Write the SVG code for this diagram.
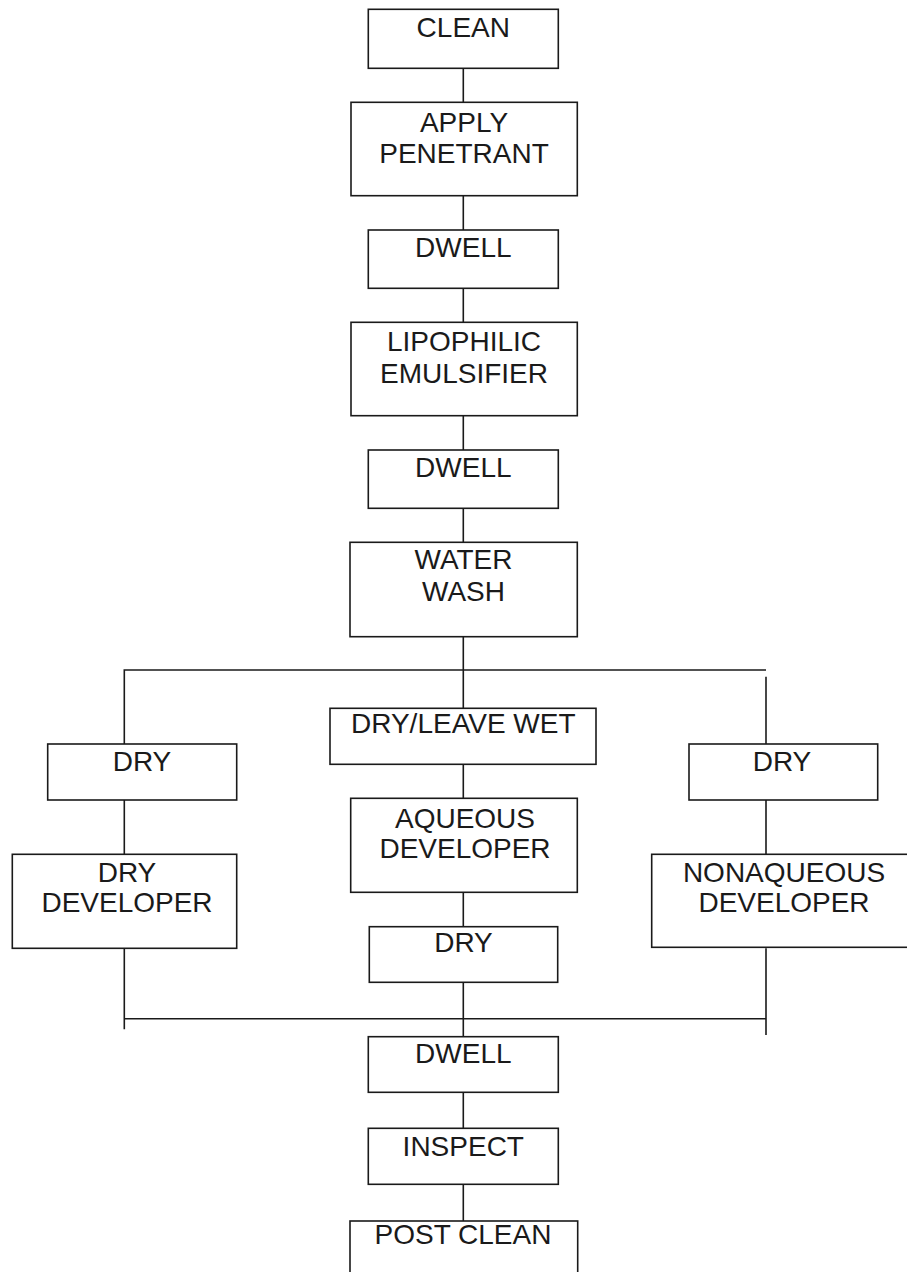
<svg xmlns="http://www.w3.org/2000/svg" width="907" height="1272" viewBox="0 0 907 1272">
<style>
.box{fill:#fff;stroke:#1a1a1a;stroke-width:1.6}
.c{fill:none;stroke:#1a1a1a;stroke-width:1.6}
text{font-family:"Liberation Sans",Arial,sans-serif;font-size:28px;fill:#1a1a1a;text-anchor:middle}
</style>
<rect width="907" height="1272" fill="#fff"/>
<g id="connectors">
<path class="c" d="M463.3,68.3V102.3M463.3,195.7V230M463.3,288.3V322.3M463.3,415.7V450M463.3,508.3V542.3M463.3,636.7V708.3"/>
<path class="c" d="M124.3,744V670H766"/>
<path class="c" d="M766,676.7V744"/>
<path class="c" d="M124.3,800V854.3M124.3,948.3V1029.3"/>
<path class="c" d="M766,800V854.3M766,948.3V1035"/>
<path class="c" d="M463.3,764.3V798.3M463.3,892.3V926.7M463.3,982.3V1036.7"/>
<path class="c" d="M124.3,1018.7H766"/>
<path class="c" d="M463.3,1092.3V1128.3M463.3,1184.3V1221"/>
</g>
<g id="clean"><rect class="box" x="368.3" y="9.3" width="190" height="59"/><text x="463.3" y="36.5">CLEAN</text></g>
<g id="apply-penetrant"><rect class="box" x="351" y="102.3" width="226.3" height="93.4"/><text x="464" y="131.7">APPLY</text><text x="464" y="163.3">PENETRANT</text></g>
<g id="dwell1"><rect class="box" x="368.3" y="230" width="190" height="58.3"/><text x="463.3" y="256.7">DWELL</text></g>
<g id="lipophilic"><rect class="box" x="351" y="322.3" width="226.3" height="93.4"/><text x="464" y="350.7">LIPOPHILIC</text><text x="464" y="383.3">EMULSIFIER</text></g>
<g id="dwell2"><rect class="box" x="368.3" y="450" width="190" height="58.3"/><text x="463.3" y="476.7">DWELL</text></g>
<g id="water-wash"><rect class="box" x="350" y="542.3" width="227.3" height="94.4"/><text x="463.5" y="569.3">WATER</text><text x="463.5" y="600.7">WASH</text></g>
<g id="dry-left"><rect class="box" x="47.7" y="744" width="189" height="56"/><text x="142" y="771">DRY</text></g>
<g id="dry-developer"><rect class="box" x="12.3" y="854.3" width="224.4" height="94"/><text x="127" y="881.7">DRY</text><text x="127" y="912.3">DEVELOPER</text></g>
<g id="dry-leave-wet"><rect class="box" x="330" y="708.3" width="266" height="56"/><text x="463.3" y="733.3">DRY/LEAVE WET</text></g>
<g id="aqueous-developer"><rect class="box" x="350.7" y="798.3" width="226.6" height="94"/><text x="465" y="827.7">AQUEOUS</text><text x="465" y="858.3">DEVELOPER</text></g>
<g id="dry-middle"><rect class="box" x="369.3" y="926.7" width="188.4" height="55.6"/><text x="463.5" y="951.7">DRY</text></g>
<g id="dry-right"><rect class="box" x="689" y="744" width="188.7" height="56"/><text x="782" y="771">DRY</text></g>
<g id="nonaqueous-developer"><rect class="box" x="651.7" y="854.3" width="264" height="93"/><text x="784" y="881.7">NONAQUEOUS</text><text x="784" y="912.3">DEVELOPER</text></g>
<g id="dwell3"><rect class="box" x="368.3" y="1036.7" width="190" height="55.6"/><text x="463.3" y="1063.3">DWELL</text></g>
<g id="inspect"><rect class="box" x="368.3" y="1128.3" width="190" height="56"/><text x="463.3" y="1156">INSPECT</text></g>
<g id="post-clean"><rect class="box" x="350" y="1221" width="227.7" height="80"/><text x="463" y="1244">POST CLEAN</text></g>
</svg>
